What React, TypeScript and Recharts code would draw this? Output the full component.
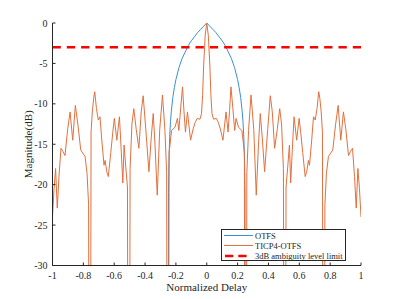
import React from 'react';
import { LineChart, Line, XAxis, YAxis, Legend } from 'recharts';

const FONT = '"Liberation Serif", "Times New Roman", serif';
const AX = '#262626';

const delayTicks = [-1, -0.8, -0.6, -0.4, -0.2, 0, 0.2, 0.4, 0.6, 0.8, 1];
const magTicks = [-30, -25, -20, -15, -10, -5, 0];
const seriesNames = ['OTFS', 'TICP4-OTFS', '3dB ambiguity level limit'];

const otfsDelay = [
  -0.25, -0.248, -0.245, -0.24, -0.235, -0.23, -0.22, -0.21, -0.2, -0.18, -0.16, -0.14, -0.12, -0.1, -0.08, -0.06, -0.04, -0.02,
  0, 0.02, 0.04, 0.06, 0.08, 0.1, 0.12, 0.14, 0.16, 0.18, 0.2, 0.21, 0.22, 0.23, 0.235, 0.24, 0.245, 0.248, 0.25,
];
const otfsMag = [
  -100, -21.0, -17.0, -14.0, -12.2, -11.0, -9.2, -8.0, -7.0, -5.5, -4.4, -3.6, -2.8, -2.2, -1.7, -1.2, -0.8, -0.4,
  0, -0.4, -0.8, -1.2, -1.7, -2.2, -2.8, -3.6, -4.4, -5.5, -7.0, -8.0, -9.2, -11.0, -12.2, -14.0, -17.0, -21.0, -100,
];

const ticpDelay = [
  -1.0, -0.99, -0.98, -0.969, -0.958, -0.945, -0.932, -0.919, -0.902, -0.886, -0.869, -0.852, -0.835, -0.817, -0.8, -0.789,
  -0.776, -0.766, -0.758, -0.75, -0.742, -0.733, -0.726, -0.715, -0.703, -0.692, -0.68, -0.666, -0.659, -0.648, -0.638, -0.622,
  -0.609, -0.599, -0.583, -0.566, -0.555, -0.544, -0.536, -0.525, -0.514, -0.505, -0.497, -0.485, -0.473, -0.457, -0.44, -0.425,
  -0.412, -0.395, -0.375, -0.36, -0.347, -0.335, -0.321, -0.305, -0.287, -0.271, -0.26, -0.252, -0.244, -0.228, -0.206, -0.19,
  -0.181, -0.169, -0.157, -0.148, -0.138, -0.125, -0.105, -0.088, -0.075, -0.062, -0.044, -0.034, -0.027, -0.02, -0.01,
  0,
  0.01, 0.02, 0.027, 0.034, 0.044, 0.062, 0.075, 0.088, 0.105, 0.125, 0.138, 0.148, 0.157, 0.169, 0.181, 0.19,
  0.206, 0.228, 0.244, 0.252, 0.26, 0.271, 0.287, 0.305, 0.321, 0.335, 0.347, 0.36, 0.375, 0.395, 0.412, 0.425,
  0.44, 0.457, 0.473, 0.485, 0.497, 0.505, 0.514, 0.525, 0.536, 0.544, 0.555, 0.566, 0.583, 0.599, 0.609, 0.622,
  0.638, 0.648, 0.659, 0.666, 0.68, 0.692, 0.703, 0.715, 0.726, 0.733, 0.742, 0.75, 0.758, 0.766, 0.776, 0.789,
  0.8, 0.817, 0.835, 0.852, 0.869, 0.886, 0.902, 0.919, 0.932, 0.945, 0.958, 0.969, 0.98, 0.99, 1.0,
];
const ticpMag = [
  -24.0, -20.5, -18.0, -22.9, -19.0, -15.5, -15.9, -16.4, -13.2, -11.0, -14.5, -10.2, -12.6, -15.7, -16.2, -16.5,
  -18.6, -22.5, -100, -13.5, -11.0, -9.3, -8.5, -10.6, -12.0, -11.6, -14.6, -17.6, -17.0, -18.4, -19.0, -16.0,
  -13.5, -11.8, -14.5, -11.6, -15.6, -19.8, -15.1, -17.8, -20.3, -100, -18.0, -12.5, -10.6, -13.2, -15.5, -11.0,
  -9.0, -13.2, -18.4, -14.2, -11.2, -15.2, -21.3, -13.2, -8.9, -13.3, -18.5, -100, -16.0, -13.3, -12.9, -11.8,
  -13.3, -10.5, -7.9, -10.8, -13.5, -11.0, -14.5, -13.1, -12.3, -11.8, -11.9, -11.2, -9.0, -5.2, -1.5,
  0,
  -1.5, -5.2, -9.0, -11.2, -11.9, -11.8, -12.3, -13.1, -14.5, -11.0, -13.5, -10.8, -7.9, -10.5, -13.3, -11.8,
  -12.9, -13.3, -16.0, -100, -18.5, -13.3, -8.9, -13.2, -21.3, -15.2, -11.2, -14.2, -18.4, -13.2, -9.0, -11.0,
  -15.5, -13.2, -10.6, -12.5, -18.0, -100, -20.3, -17.8, -15.1, -19.8, -15.6, -11.6, -14.5, -11.8, -13.5, -16.0,
  -19.0, -18.4, -17.0, -17.6, -14.6, -11.6, -12.0, -10.6, -8.5, -9.3, -11.0, -13.5, -100, -22.5, -18.6, -16.5,
  -16.2, -15.7, -12.6, -10.2, -14.5, -11.0, -13.2, -16.4, -15.9, -15.5, -19.0, -22.9, -18.0, -20.5, -24.0,
];

const limitDelay = [-1, 1];
const limitMag = [-3, -3];

const zip = (xs: number[], ys: number[]) => xs.map((x, i) => ({ x, y: ys[i] }));
const otfsData = zip(otfsDelay, otfsMag);
const ticpData = zip(ticpDelay, ticpMag);
const limitData = zip(limitDelay, limitMag);

const BLUE = '#3b8fd3';
const ORANGE = '#e2703e';
const RED = '#ff0000';
const LFS = 8.5;

const LegendBox = () => (
  <svg width={125} height={32} style={{ display: 'block', overflow: 'visible' }}>
    <rect x={0.5} y={0.5} width={124} height={31} fill="#fff" stroke={AX} strokeWidth={1} />
    <line x1={3} x2={32} y1={6.5} y2={6.5} stroke={BLUE} strokeWidth={1} />
    <text x={34} y={9.5} fontSize={LFS} fontFamily={FONT} fill={AX}>{seriesNames[0]}</text>
    <line x1={3} x2={32} y1={16.5} y2={16.5} stroke={ORANGE} strokeWidth={1} />
    <text x={34} y={19.5} fontSize={LFS} fontFamily={FONT} fill={AX}>{seriesNames[1]}</text>
    <line x1={4} x2={25.7} y1={27} y2={27} stroke={RED} strokeWidth={2.5} strokeDasharray="8.3 5" />
    <text x={34} y={30} fontSize={LFS} fontFamily={FONT} fill={AX}>{seriesNames[2]}</text>
  </svg>
);

const blank = () => '';

export default function App() {
  const tickStyle = { fontSize: 10, fill: AX, fontFamily: FONT };
  return (
    <div style={{ position: 'absolute', left: 0, top: 0, width: 399, height: 299, background: '#fff', fontFamily: FONT }}>
      <LineChart width={399} height={299} margin={{ top: 23, right: 38, bottom: 0, left: 0 }}>
        <XAxis
          xAxisId="b"
          type="number"
          dataKey="x"
          domain={[-1, 1]}
          ticks={delayTicks}
          interval={0}
          allowDataOverflow
          orientation="bottom"
          height={33.5}
          tickSize={-3}
          tickMargin={9}
          tick={tickStyle}
          axisLine={{ stroke: AX, strokeWidth: 1 }}
          tickLine={{ stroke: AX, strokeWidth: 1 }}
          tickFormatter={(v: number) => String(v)}
          label={{ value: 'Normalized Delay', position: 'insideBottom', offset: 8, fontSize: 11, fill: AX, fontFamily: FONT }}
        />
        <XAxis
          xAxisId="t"
          type="number"
          dataKey="x"
          domain={[-1, 1]}
          ticks={delayTicks}
          interval={0}
          allowDataOverflow
          orientation="top"
          mirror
          height={0}
          tickSize={3}
          tick={{ fontSize: 1, fill: 'none' }}
          tickFormatter={blank}
          axisLine={{ stroke: AX, strokeWidth: 1 }}
          tickLine={{ stroke: AX, strokeWidth: 1 }}
        />
        <YAxis
          yAxisId="l"
          type="number"
          domain={[-30, 0]}
          ticks={magTicks}
          interval={0}
          allowDataOverflow
          orientation="left"
          width={52.5}
          tickSize={-3}
          tickMargin={8}
          tick={tickStyle}
          axisLine={{ stroke: AX, strokeWidth: 1 }}
          tickLine={{ stroke: AX, strokeWidth: 1 }}
          tickFormatter={(v: number) => String(v)}
          label={{ value: 'Magnitude(dB)', angle: -90, position: 'insideLeft', offset: 28.5, fontSize: 11, fill: AX, fontFamily: FONT, style: { textAnchor: 'middle' } }}
        />
        <YAxis
          yAxisId="r"
          type="number"
          domain={[-30, 0]}
          ticks={magTicks}
          interval={0}
          allowDataOverflow
          orientation="right"
          mirror
          width={0}
          tickSize={3}
          tick={{ fontSize: 1, fill: 'none' }}
          tickFormatter={blank}
          axisLine={{ stroke: '#a6a6a6', strokeWidth: 2 }}
          tickLine={{ stroke: AX, strokeWidth: 1 }}
        />
        <Line xAxisId="b" yAxisId="l" data={otfsData} dataKey="y" name={seriesNames[0]} type="linear" stroke={BLUE} strokeWidth={1} dot={false} activeDot={false} isAnimationActive={false} />
        <Line xAxisId="b" yAxisId="l" data={ticpData} dataKey="y" name={seriesNames[1]} type="linear" stroke={ORANGE} strokeWidth={1} dot={false} activeDot={false} isAnimationActive={false} />
        <Line xAxisId="b" yAxisId="l" data={limitData} dataKey="y" name={seriesNames[2]} type="linear" stroke={RED} strokeWidth={2.5} strokeDasharray="8.3 6" dot={false} activeDot={false} isAnimationActive={false} />
        <Legend
          layout="horizontal"
          verticalAlign="middle"
          align="center"
          wrapperStyle={{ position: 'absolute', left: 221, top: 229, width: 125, height: 32 }}
          content={() => <LegendBox />}
        />
      </LineChart>
    </div>
  );
}
